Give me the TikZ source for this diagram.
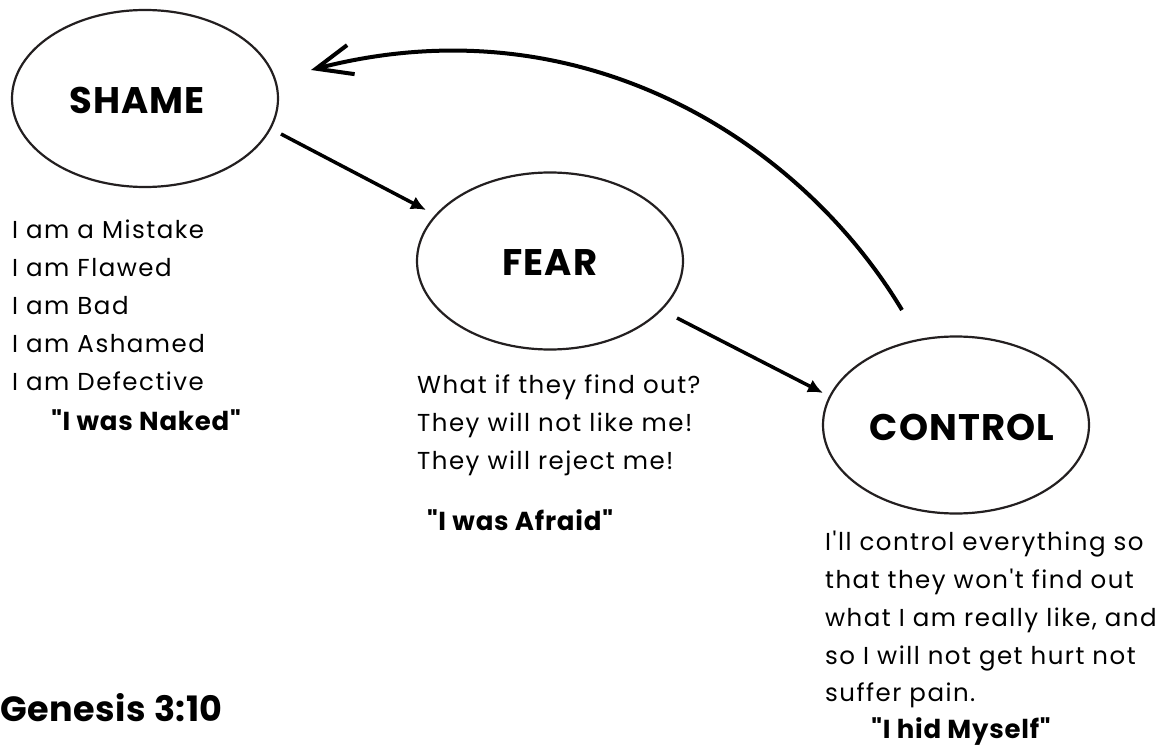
\documentclass[tikz,border=0pt]{standalone}
\usepackage{fontspec}
\setmainfont{Poppins}[Ligatures=TeXOff]
\usetikzlibrary{arrows.meta,shapes.geometric}
\definecolor{ink}{HTML}{231F20}
\begin{document}
\begin{tikzpicture}[x=1pt,y=-1pt,
  stateellipse/.style={ellipse,draw=ink,line width=2.2pt,minimum width=266pt,minimum height=177pt,inner sep=0pt},
  headtext/.style={font=\fontsize{37}{42}\selectfont\bfseries\addfontfeatures{LetterSpace=3},text=black,inner sep=0pt},
  gentext/.style={font=\fontsize{35}{42}\selectfont\bfseries\addfontfeatures{LetterSpace=1.5},text=black,inner sep=0pt},
  bodytext/.style={font=\fontsize{24.5}{37.8}\selectfont\addfontfeatures{LetterSpace=6},align=left,anchor=north west,inner sep=0pt,text=black},
  quotetext/.style={font=\fontsize{26}{30}\selectfont\bfseries\addfontfeatures{LetterSpace=3},inner sep=0pt,text=black},
  flowarrow/.style={line width=3.5pt,-{Latex[length=15pt,width=14pt]}},
  backarrow/.style={line width=4pt,-{Straight Barb[length=36pt,width=30pt,line width=4pt]}}
]
\useasboundingbox (0,0) rectangle (1173,749);
\fill[white] (0,0) rectangle (1173,749);

% ellipses
\node[stateellipse] (shame) at (145,98.5) {};
\node[stateellipse] (fear) at (550,261) {};
\node[stateellipse] (control) at (956,425) {};

% titles
\node[headtext] (shamet) at (137,100) {SHAME};
\node[headtext] (feart) at (550,263) {FEAR};
\node[headtext] (controlt) at (962,427) {CONTROL};

% body texts
\node[bodytext] (shameb) at (12,220) {I am a Mistake\\I am Flawed\\I am Bad\\I am Ashamed\\I am Defective};
\node[quotetext] (shameq) at (146,420) {"I was Naked"};

\node[bodytext] (fearb) at (417,375) {What if they find out?\\They will not like me!\\They will reject me!};
\node[quotetext] (fearq) at (520,520) {"I was Afraid"};

\node[bodytext] (controlb) at (825,531) {I'll control everything so\\that they won't find out\\what I am really like, and\\so I will not get hurt not\\suffer pain.};
\node[quotetext] (controlq) at (961,732) {"I hid Myself"};

\node[gentext,anchor=west] (genesis) at (0,708) {Genesis 3:10};

% connector end points
\coordinate (a1s) at (281,134);
\coordinate (a1e) at (426,210);
\coordinate (a2s) at (677,318);
\coordinate (a2e) at (823,393);
\coordinate (a3s) at (902,310);
\coordinate (a3e) at (311,70);

\draw[flowarrow] (a1s) -- (a1e);
\draw[flowarrow] (a2s) -- (a2e);
\draw[backarrow] (a3s) .. controls (800,140) and (580,0) .. (a3e);
\end{tikzpicture}
\end{document}
